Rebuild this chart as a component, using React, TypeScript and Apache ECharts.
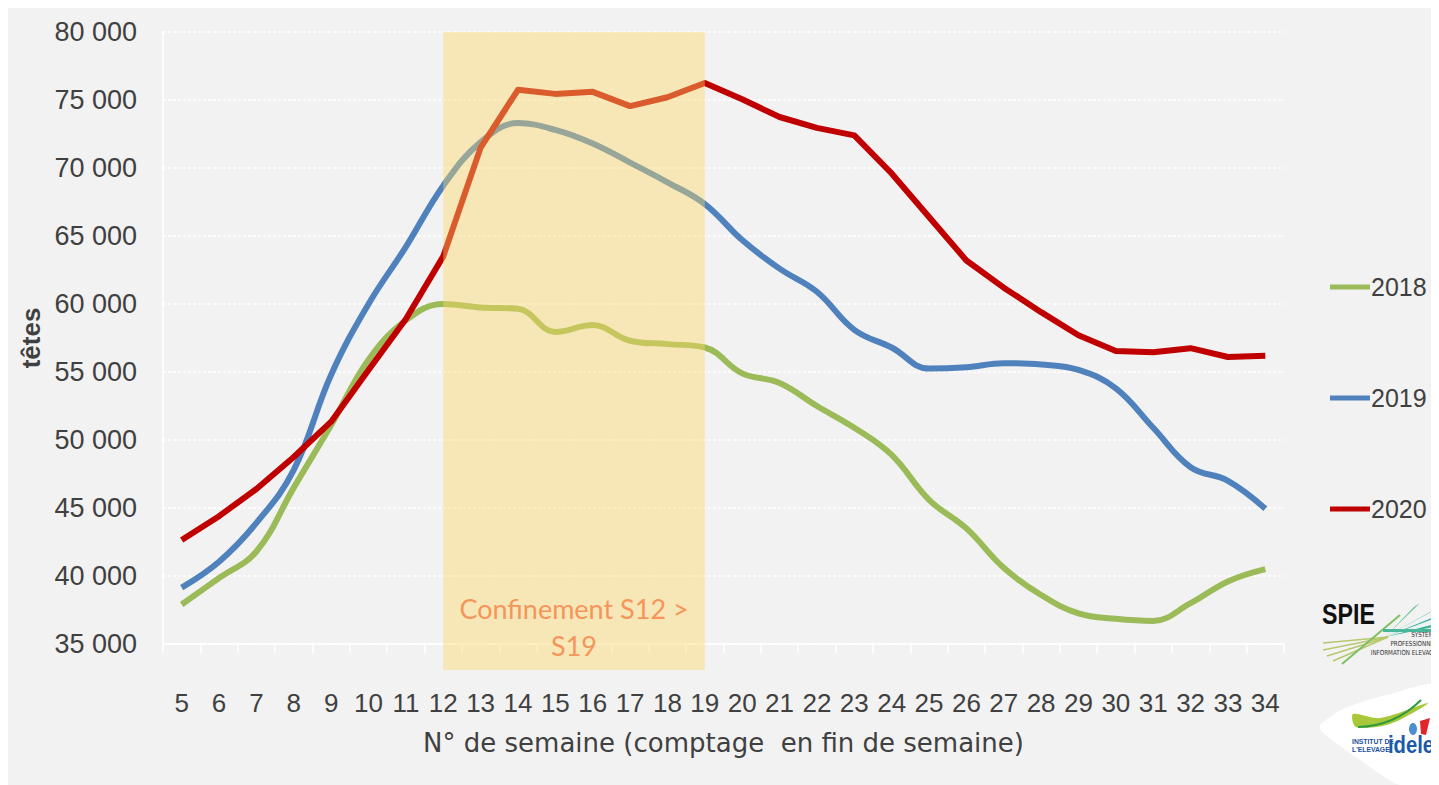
import React, { useEffect, useRef } from "react";
import * as echarts from "echarts";

const weeks = ["5","6","7","8","9","10","11","12","13","14","15","16","17","18","19","20","21","22","23","24","25","26","27","28","29","30","31","32","33","34"];
const y2018 = [37900,39850,41800,46500,51100,55900,58800,60000,59750,59650,57950,58450,57300,57050,56800,54900,54200,52500,50900,48900,45600,43500,40600,38600,37250,36850,36700,38000,39600,40500];
const y2019 = [39150,41050,43900,47800,54800,60000,64200,68700,71900,73300,72800,71800,70400,68950,67350,64700,62600,60900,58100,56800,55250,55350,55650,55550,55150,53800,50900,48000,47000,44950];
const y2020 = [42650,44400,46400,48750,51350,55150,58900,63500,71500,75750,75450,75600,74550,75200,76250,75050,73750,72950,72400,69600,66400,63200,61200,59400,57700,56550,56450,56750,56100,56200];
const yTicks = { min: 35000, max: 80000, interval: 5000 };
const shadeFrom = "12";
const shadeTo = "19";

const NUM_FONT = "Liberation Sans";

function fmt(v: number) {
  return String(v).replace(/\B(?=(\d{3})+(?!\d))/g, " ");
}

export default function App() {
  const ref = useRef<HTMLDivElement>(null);
  useEffect(() => {
    document.documentElement.style.overflow = "hidden";
    document.body.style.overflow = "hidden";
    if (!ref.current) return;
    const chart = echarts.init(ref.current, undefined, { renderer: "svg" });
    const option: any = {
      animation: false,
      backgroundColor: "#f2f2f2",
      grid: { left: 155, right: 155, top: 24, bottom: 141 },
      legend: {
        orient: "vertical",
        left: 1317,
        top: 261,
        padding: 5,
        itemGap: 85,
        itemWidth: 40,
        itemHeight: 5,
        icon: "rect",
        textStyle: { fontFamily: NUM_FONT, fontSize: 25, color: "#404040", lineHeight: 26, padding: [0, 0, 0, -4] },
        data: ["2018", "2019", "2020"],
      },
      xAxis: {
        type: "category",
        data: weeks,
        boundaryGap: true,
        name: "N° de semaine (comptage  en fin de semaine)",
        nameLocation: "middle",
        nameGap: 86,
        nameTextStyle: { fontFamily: "DejaVu Sans", fontSize: 26, color: "#404040" },
        axisLine: { lineStyle: { color: "#ffffff", width: 1.5 } },
        axisTick: { show: true, length: 9, lineStyle: { color: "#ffffff", width: 1.5 } },
        axisLabel: { margin: 46, fontFamily: NUM_FONT, fontSize: 26, color: "#404040", interval: 0 },
        splitLine: { show: false },
      },
      yAxis: {
        type: "value",
        min: yTicks.min,
        max: yTicks.max,
        interval: yTicks.interval,
        name: "têtes",
        nameLocation: "middle",
        nameGap: 116,
        nameRotate: 90,
        nameTextStyle: { fontFamily: NUM_FONT, fontSize: 26, fontWeight: "bold", color: "#404040" },
        axisLine: { show: true, lineStyle: { color: "#ffffff", width: 1.5 } },
        axisTick: { show: false },
        axisLabel: { margin: 26, fontFamily: NUM_FONT, fontSize: 27, color: "#404040", formatter: (v: number) => fmt(v) },
        splitLine: { show: true, lineStyle: { color: "#ffffff", width: 1.5, type: [3, 2] } },
      },
      series: [
        { name: "2018", type: "line", data: y2018, smooth: 0.4, symbol: "none", lineStyle: { color: "#9BBB59", width: 6 }, itemStyle: { color: "#9BBB59" } },
        { name: "2019", type: "line", data: y2019, smooth: 0.4, symbol: "none", lineStyle: { color: "#4F81BD", width: 6 }, itemStyle: { color: "#4F81BD" } },
        { name: "2020", type: "line", data: y2020, smooth: false, symbol: "none", lineStyle: { color: "#C00000", width: 6, join: "round" }, itemStyle: { color: "#C00000" } },
      ],
    };
    chart.setOption(option);

    const x1 = chart.convertToPixel({ xAxisIndex: 0 }, shadeFrom) as number;
    const x2 = chart.convertToPixel({ xAxisIndex: 0 }, shadeTo) as number;
    const yt = chart.convertToPixel({ yAxisIndex: 0 }, yTicks.max) as number;
    const yb = (chart.convertToPixel({ yAxisIndex: 0 }, yTicks.min) as number) + 26;
    const cx = (x1 + x2) / 2;

    const o = 8; // page offset
    const P = (x: number, y: number) => [x - o, y - o];

    const graphic: any[] = [
      { type: "rect", z: 100, shape: { x: x1, y: yt, width: x2 - x1, height: yb - yt }, style: { fill: "rgba(255,217,102,0.42)" } },
      { type: "text", z: 101, x: cx, y: yb - 62, style: { text: "Confinement S12 >", fontFamily: "Lato", fontSize: 27, fill: "#F5955A", align: "center", verticalAlign: "middle" } },
      { type: "text", z: 101, x: cx, y: yb - 25, style: { text: "S19", fontFamily: "Lato", fontSize: 27, fill: "#F5955A", align: "center", verticalAlign: "middle" } },
      // SPIE logo
      { type: "text", z: 50, x: 1322 - o, y: 600 - o, scaleX: 0.8, style: { text: "SPIE", fontFamily: "Liberation Sans", fontWeight: "bold", fontSize: 29, fill: "#111111", align: "left", verticalAlign: "top" } },
      ...[
        [1323, 643], [1323, 650], [1327, 656], [1333, 661],
      ].map((p) => ({ type: "line", z: 50, shape: { x1: p[0] - o, y1: p[1] - o, x2: 1388 - o, y2: 637 - o }, style: { stroke: "#b9c76c", lineWidth: 1.5 } })),
      { type: "line", z: 50, shape: { x1: 1342 - o, y1: 664 - o, x2: 1400 - o, y2: 615 - o }, style: { stroke: "#7fbf66", lineWidth: 2 } },
      ...[
        [1420, 603, "#63c28e"], [1439, 607, "#40b89a"], [1439, 615, "#2fb39f"], [1439, 623, "#3bb59a"],
      ].map((p: any) => ({ type: "polygon", z: 50, shape: { points: [P(1385, 637), P(p[0], p[1]), P(p[0] - 6, p[1] + 4)] }, style: { fill: p[2] } })),
      { type: "rect", z: 50, shape: { x: 1383 - o, y: 629 - o, width: 60, height: 3 }, style: { fill: "#49b79a" } },
      { type: "text", z: 50, x: 1437 - o, y: 634 - o, scaleX: 0.8, style: { text: "SYSTÈME", fontFamily: "DejaVu Sans", fontSize: 7, fill: "#333333", align: "right", verticalAlign: "middle" } },
      { type: "text", z: 50, x: 1437 - o, y: 643 - o, scaleX: 0.8, style: { text: "PROFESSIONNEL", fontFamily: "DejaVu Sans", fontSize: 7, fill: "#333333", align: "right", verticalAlign: "middle" } },
      { type: "text", z: 50, x: 1437 - o, y: 652 - o, scaleX: 0.8, style: { text: "INFORMATION ELEVAGE", fontFamily: "DejaVu Sans", fontSize: 7, fill: "#333333", align: "right", verticalAlign: "middle" } },
      // idele logo
      { type: "polygon", z: 50, shape: { points: [P(1320, 725), P(1345, 708), P(1390, 694), P(1439, 686), P(1439, 785), P(1400, 785), P(1360, 760), P(1322, 732)], smooth: 0.25 }, style: { fill: "#ffffff" } },
      { type: "polygon", z: 51, shape: { points: [P(1353, 714), P(1380, 718), P(1428, 703), P(1390, 724), P(1356, 727)], smooth: 0.3 }, style: { fill: "#a8c83a" } },
      { type: "bezierCurve", z: 52, shape: { x1: 1358 - o, y1: 727 - o, cpx1: 1395 - o, cpy1: 726 - o, x2: 1421 - o, y2: 700 - o }, style: { stroke: "#2f9a3e", lineWidth: 2, fill: "none" } },
      { type: "ellipse", z: 52, shape: { cx: 1413 - o, cy: 729 - o, rx: 4, ry: 6 }, style: { fill: "#4a8fd0" } },
      { type: "polygon", z: 52, shape: { points: [P(1420, 721), P(1430, 718), P(1426, 735), P(1421, 734)] }, style: { fill: "#e0252b" } },
      { type: "text", z: 52, x: 1352 - o, y: 741 - o, scaleX: 0.85, style: { text: "INSTITUT DE", fontFamily: "Liberation Sans", fontWeight: "bold", fontSize: 8, fill: "#1b4f9c", verticalAlign: "middle" } },
      { type: "text", z: 52, x: 1352 - o, y: 749 - o, scaleX: 0.85, style: { text: "L'ELEVAGE", fontFamily: "Liberation Sans", fontWeight: "bold", fontSize: 8, fill: "#1b4f9c", verticalAlign: "middle" } },
      { type: "text", z: 52, x: 1388 - o, y: 745 - o, scaleX: 0.88, style: { text: "idele", fontFamily: "Liberation Sans", fontWeight: "bold", fontSize: 23, fill: "#1b5aa8", verticalAlign: "middle" } },
    ];
    chart.setOption({ graphic });
    return () => chart.dispose();
  }, []);
  return <div ref={ref} style={{ width: 1431, height: 777 }} />;
}
